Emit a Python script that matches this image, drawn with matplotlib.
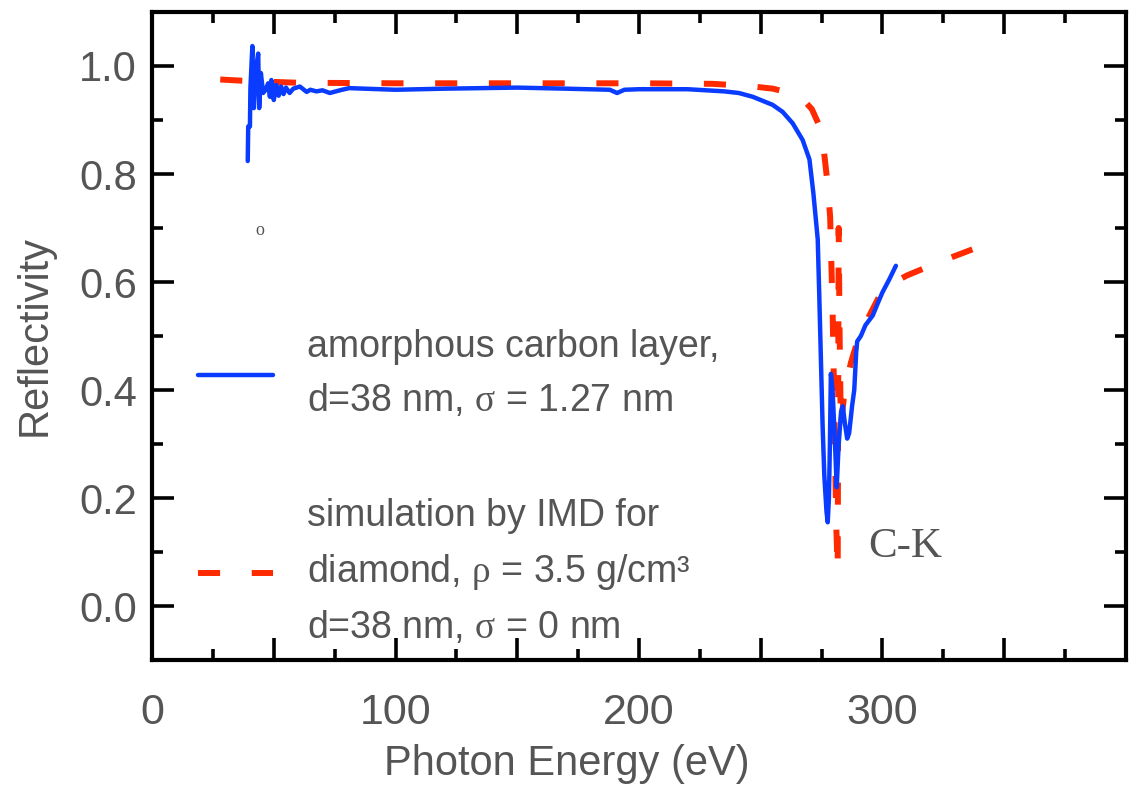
import numpy as np
import matplotlib
matplotlib.use("Agg")
import matplotlib.pyplot as plt
from matplotlib.ticker import MultipleLocator, FixedLocator, FixedFormatter

# ==== data ====
# measured reflectivity, amorphous carbon layer
meas_E = [39.3, 39.5, 40.2, 40.4, 41.2, 41.8, 42.6, 43.6, 44.0, 44.7, 45.6, 46.5,
          47.7, 48.4, 49.0, 50.0, 51.0, 52.0, 53.0, 54.0, 55.0, 56.5, 58.0, 60.7,
          63.5, 65.0, 67.5, 70.0, 73.0, 78.0, 81.0, 100, 120, 150, 170, 188, 191,
          194, 200, 220, 235, 241, 246.7, 254.9, 259.0, 263.1, 267.2, 270.0, 271.6,
          273.4, 274.0, 274.7, 275.4, 276.1, 277.0, 277.5, 278.0, 278.4, 278.8,
          279.5, 280.5, 281.2, 282.0, 283.0, 283.7, 284.5, 285.5, 286.3, 287.5,
          288.4, 289.2, 289.6, 291.1, 293.0, 296.0, 298.0, 300.0, 302.8, 305.5]
meas_R = [0.824, 0.888, 0.888, 0.959, 1.037, 0.922, 0.993, 1.023, 0.922, 0.987, 0.950, 0.955,
          0.968, 0.943, 0.974, 0.937, 0.965, 0.945, 0.962, 0.948, 0.960, 0.950, 0.958, 0.962,
          0.952, 0.956, 0.953, 0.955, 0.950, 0.956, 0.959, 0.956, 0.958, 0.960, 0.958, 0.956, 0.950,
          0.956, 0.957, 0.957, 0.953, 0.950, 0.943, 0.928, 0.915, 0.894, 0.863, 0.827, 0.765,
          0.679, 0.581, 0.458, 0.335, 0.242, 0.175, 0.155, 0.200, 0.300, 0.430,
          0.400, 0.300, 0.220, 0.300, 0.360, 0.370, 0.340, 0.310, 0.320, 0.370,
          0.400, 0.470, 0.490, 0.500, 0.520, 0.538, 0.560, 0.581, 0.605, 0.630]

# IMD simulation, diamond
sim_E = [28, 40, 60, 100, 150, 200, 230, 245, 255, 262, 267, 271, 274, 276, 277.5,
         278.5, 279.5, 280.3, 281.0, 281.6, 282.0, 282.4, 282.9, 283.5, 284.5, 285.5,
         287, 289, 292, 296, 300, 305, 310, 318, 325, 332, 339]
sim_R = [0.975, 0.972, 0.969, 0.968, 0.968, 0.968, 0.967, 0.963, 0.958, 0.950, 0.940,
         0.920, 0.890, 0.840, 0.780, 0.720, 0.550, 0.350, 0.150, 0.065, 0.700, 0.500,
         0.330, 0.360, 0.400, 0.420, 0.450, 0.480, 0.515, 0.550, 0.585, 0.600, 0.612,
         0.627, 0.640, 0.652, 0.664]

x_ticklabels = ["0", "", "100", "", "200", "", "300", "", ""]
label_meas = "amorphous carbon layer,\nd=38 nm, $\\mathrm{\\sigma}$ = 1.27 nm"
label_sim = ("simulation by IMD for\ndiamond, $\\mathrm{\\rho}$ = 3.5 g/cm\u00b3\n"
             "d=38 nm, $\\mathrm{\\sigma}$ = 0 nm")
# ===================================

gray = "#555555"

plt.rcParams["font.family"] = ["Liberation Sans", "DejaVu Sans"]
plt.rcParams["mathtext.fontset"] = "custom"
plt.rcParams["mathtext.rm"] = "Liberation Serif"
plt.rcParams["mathtext.default"] = "rm"

fig = plt.figure(figsize=(11.33, 8), dpi=100)
ax = fig.add_axes([0.1342, 0.175, 0.8596, 0.81])

ax.plot(meas_E, meas_R, color="#0a3cff", lw=3.2, solid_joinstyle="round",
        solid_capstyle="round", label=label_meas, zorder=3)
ax.plot(sim_E, sim_R, color="#ff2a00", lw=4.3, dashes=(3.7, 5.3),
        dash_capstyle="butt", label=label_sim, zorder=2)

ax.set_xlim(0, 400)
ax.set_ylim(-0.1, 1.1)

ax.xaxis.set_major_locator(FixedLocator(np.arange(0, 401, 50)))
ax.xaxis.set_major_formatter(FixedFormatter(x_ticklabels))
ax.xaxis.set_minor_locator(MultipleLocator(25))
ax.yaxis.set_major_locator(MultipleLocator(0.2))
ax.yaxis.set_minor_locator(MultipleLocator(0.1))

for s in ax.spines.values():
    s.set_linewidth(3)
ax.tick_params(which="both", direction="in", top=True, right=True, width=2.6, color="black")
ax.tick_params(which="major", length=16)
ax.tick_params(which="minor", length=8)
ax.tick_params(axis="y", which="major", labelsize=30, labelcolor=gray, pad=11)
ax.tick_params(axis="x", which="major", labelsize=31, labelcolor=gray, pad=24)
ax.set_yticklabels([f"{v:.1f}" for v in ax.get_yticks()])

ax.set_xlabel("Photon Energy (eV)", fontsize=30, color=gray)
ax.xaxis.set_label_coords(0.426, -0.13)
ax.set_ylabel("Reflectivity", fontsize=30, color=gray)
ax.yaxis.set_label_coords(-0.10, 0.5)

leg = ax.legend(loc="upper left", bbox_to_anchor=(0.047, 0.511), frameon=False,
                fontsize=27, handlelength=2.0, handletextpad=0.9,
                labelspacing=2.1, borderpad=0, borderaxespad=0)
for t in leg.get_texts():
    t.set_color(gray)
    t.set_linespacing(1.6)

ax.text(294, 0.11, "C-K", family="Liberation Serif", fontsize=31, color=gray,
        ha="left", va="center")
ax.text(44.3, 0.696, "o", family="Liberation Serif", fontsize=13, color=gray,
        ha="center", va="center")

fig.savefig("out.png", dpi=100)
